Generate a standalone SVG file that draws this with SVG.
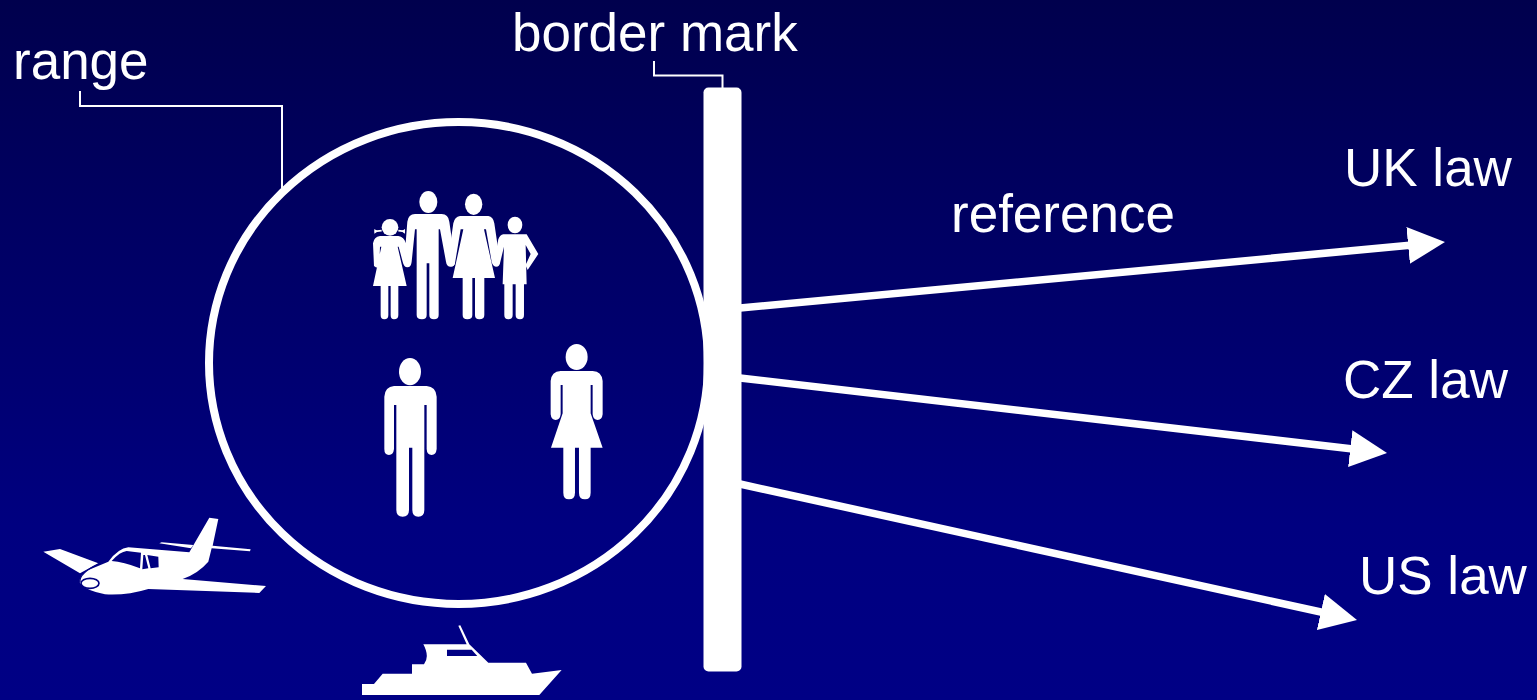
<svg xmlns="http://www.w3.org/2000/svg" width="1537" height="700" viewBox="0 0 1537 700">
<style>
text{font-family:"Liberation Sans",Arial,sans-serif;font-size:53px;fill:#fff}
.w{fill:#fff}
.arrow{stroke:#fff;stroke-width:7.5;fill:none}
.leader{stroke:#fff;stroke-width:2;fill:none}
</style>
<defs>
<linearGradient id="bg" x1="0" y1="0" x2="0" y2="1"><stop offset="0" stop-color="#00004d"/><stop offset="0.75" stop-color="#000080"/><stop offset="1" stop-color="#000085"/></linearGradient>
<marker id="head" markerUnits="userSpaceOnUse" markerWidth="40" markerHeight="40" viewBox="0 0 40 40" refX="7" refY="20" orient="auto"><path d="M0,1.5L37,20L0,38.5Z" fill="#fff"/></marker>
</defs>
<rect width="1537" height="700" fill="url(#bg)"/>
<g id="range-circle"><ellipse cx="458.5" cy="363" rx="249.500" ry="241" fill="none" stroke="#fff" stroke-width="8"/></g>
<g id="border-bar"><rect x="703.5" y="87.5" width="38" height="584" rx="5" class="w"/></g>
<g id="connectors">
<path class="arrow" d="M740,308L1415.1,244.8" marker-end="url(#head)"/>
<path class="arrow" d="M740,378L1357.2,449.5" marker-end="url(#head)"/>
<path class="arrow" d="M740,484L1327.7,613.5" marker-end="url(#head)"/>
<path class="leader" d="M80,91V106H282V188"/>
<path class="leader" d="M654,61V75.500H722.500V88"/>
</g>
<g id="family" class="w" transform="translate(360,180) scale(.3333)">
<circle cx="90" cy="142" r="25"/>
<path d="M65,152L44,154M115,152L134,154" stroke="#fff" stroke-width="5"/>
<path d="M43,147L54,154L43,161ZM135,147L124,154L135,161Z"/>
<path d="M60,168L115,168Q132,170 138,190L152,240Q156,260 142,262Q132,262 128,245L116,200L113,200L140,318L115,318L115,405Q115,418 102,418Q92,418 92,405L92,318L85,318L85,405Q85,418 73,418Q62,418 62,405L62,318L39,318L64,200L60,200L58,262Q50,266 42,258L39,190Q42,170 60,168Z"/>
<ellipse cx="205" cy="66" rx="27" ry="33"/>
<path d="M165,102L245,102Q265,102 268,125L285,245Q285,260 272,260Q260,260 258,245L240,148L236,148L236,405Q236,418 222,418Q208,418 208,405L208,250L200,250L200,405Q200,418 186,418Q170,418 170,405L170,148L165,148L155,245Q153,262 142,260Q130,258 133,240L142,125Q145,102 165,102Z"/>
<ellipse cx="341" cy="73" rx="26" ry="32"/>
<path d="M300,108L385,108Q400,110 403,130L420,245Q420,260 408,260Q398,258 395,245L378,148L372,148L405,294L373,294L373,405Q373,418 358,418Q345,418 345,405L345,294L337,294L337,405Q337,418 322,418Q308,418 308,405L308,294L278,294L310,148L302,148L285,250Q282,262 270,258Q262,255 264,240L280,130Q284,110 300,108Z"/>
<ellipse cx="465" cy="135" rx="22" ry="25"/>
<path d="M430,163L500,163L535,222L503,270L497,255L512,222L497,195L500,313L492,313L492,405Q492,418 480,418Q467,418 467,405L467,313L458,313L458,405Q458,418 445,418Q433,418 433,405L433,313L428,313L432,200L420,250Q414,262 405,256Q400,250 404,238L415,178Q420,165 430,163Z"/>
</g>
<g id="man" class="w" transform="translate(370,335) scale(.3333)">
<ellipse cx="120" cy="110" rx="33" ry="41"/>
<path d="M72,153L170,153Q198,155 200,185L200,342Q198,360 185,360Q171,360 170,342L170,210L163,210L163,525Q163,545 145,545Q127,545 127,525L127,338L117,338L117,525Q117,545 98,545Q79,545 79,525L79,210L72,210L72,342Q70,360 57,360Q43,360 43,342L43,185Q45,155 72,153Z"/>
</g>
<g id="woman" class="w" transform="translate(370,335) scale(.3333)">
<ellipse cx="620" cy="66" rx="33" ry="39"/>
<path d="M572,108L668,108Q696,110 698,138L698,238Q696,255 683,255Q670,255 668,238L668,150L662,150L662,235L698,338L662,338L662,473Q662,493 645,493Q627,493 627,473L627,338L615,338L615,473Q615,493 597,493Q580,493 580,473L580,338L543,338L578,235L578,150L572,150L572,238Q570,255 557,255Q544,255 542,238L542,138Q544,110 572,108Z"/>
</g>
<g id="plane" transform="translate(30,505) scale(.3333)">
<path class="w" fill-rule="nonzero" d="M40,140L90,132L205,175L150,205ZM388,115L395,112L490,120L483,130ZM478,142L538,38L565,42L548,122L662,133L660,139L545,130L535,170Q505,205 458,222L708,243L688,264L355,252Q290,272 225,268Q170,258 150,235Q145,215 170,197L235,170Q265,130 295,127ZM245,168Q280,170 330,190L333,143L290,138Q270,140 245,168ZM340,150L337,193L355,190L345,150ZM352,150L362,190L386,187L385,155Z"/>
<path d="M150,232Q146,205 205,177" fill="none" stroke="#000080" stroke-width="4"/>
<ellipse cx="180" cy="235" rx="27" ry="15" fill="#fff" stroke="#000080" stroke-width="5"/>
</g>
<g id="boat" transform="translate(350,615) scale(.3333)">
<path class="w" fill-rule="evenodd" d="M36,207L72,207L98,176L186,176L186,148L222,148Q240,125 220,88L350,88L325,32L331,31L358,88L415,143L528,143L546,176L635,165L568,240L36,240ZM291,104L365,104L382,123L291,123Z"/>
</g>
<g id="labels">
<text x="13" y="78.500">range</text>
<text x="512" y="50.500">border mark</text>
<text x="951" y="231.500">reference</text>
<text x="1344" y="185.500">UK law</text>
<text x="1343" y="397.500">CZ law</text>
<text x="1359" y="593.500">US law</text>
</g>
</svg>
